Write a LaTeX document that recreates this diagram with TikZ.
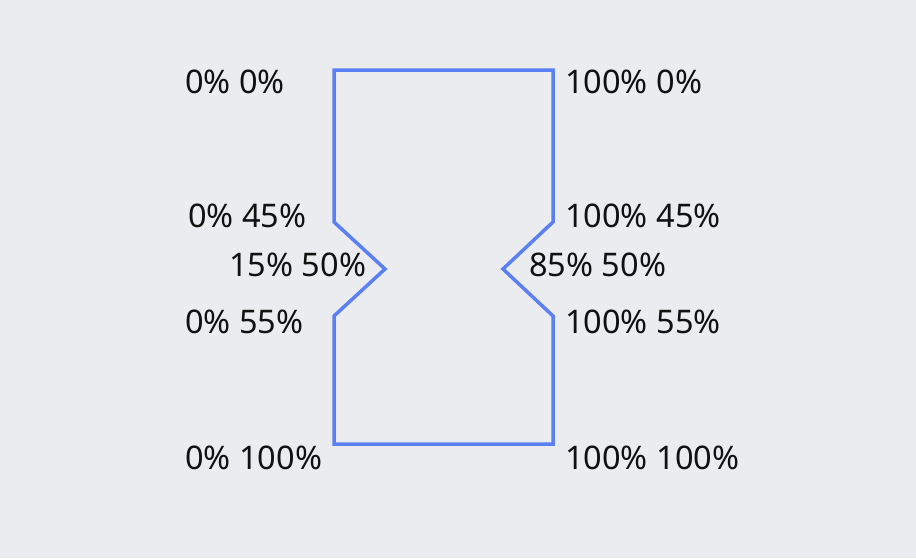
\documentclass[tikz,border=0pt]{standalone}
\usepackage{fontspec}
\setmainfont{Noto Sans}
\usepackage{xcolor}
\usepackage{tikz}
\usetikzlibrary{positioning}
\definecolor{ClipBlue}{RGB}{91,128,246}
\definecolor{PageGray}{RGB}{235,236,239}
\definecolor{InkBlack}{RGB}{17,17,17}

\begin{document}
\begin{tikzpicture}[x=1pt,y=-1pt,
  lbl/.style={anchor=base west,inner sep=0pt,text=InkBlack,font=\fontsize{32.5}{38}\selectfont}]
\fill[PageGray] (0,0) rectangle (916,558);
\coordinate (tl) at (334,70);
\coordinate (tr) at (553,70);
\coordinate (rt) at (553,222);
\coordinate (rm) at (503,269);
\coordinate (rb) at (553,316);
\coordinate (br) at (553,444);
\coordinate (bl) at (334,444);
\coordinate (lb) at (334,316);
\coordinate (lm) at (385,269);
\coordinate (lt) at (334,222);
\draw[ClipBlue,line width=3.5pt,line join=miter] (tl)--(tr)--(rt)--(rm)--(rb)--(br)--(bl)--(lb)--(lm)--(lt)--cycle;
\node[lbl] (tl-lbl) at (185,93) {0\% 0\%};
\node[lbl] (tr-lbl) at (565,93) {100\% 0\%};
\node[lbl] (lt-lbl) at (188,227) {0\% 45\%};
\node[lbl] (rt-lbl) at (565,227) {100\% 45\%};
\node[lbl] (lm-lbl) at (229,276) {15\% 50\%};
\node[lbl] (rm-lbl) at (529,276) {85\% 50\%};
\node[lbl] (lb-lbl) at (185,333) {0\% 55\%};
\node[lbl] (rb-lbl) at (565,333) {100\% 55\%};
\node[lbl] (bl-lbl) at (185,469) {0\% 100\%};
\node[lbl] (br-lbl) at (565,469) {100\% 100\%};
\end{tikzpicture}
\end{document}
